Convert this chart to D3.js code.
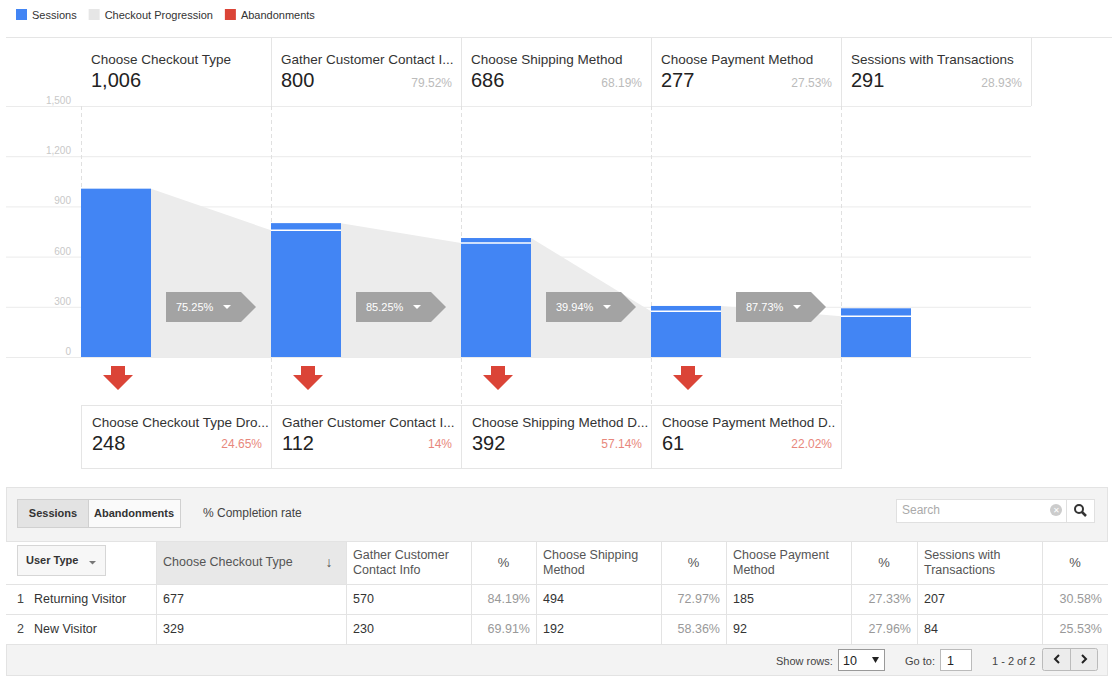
<!DOCTYPE html>
<html><head><meta charset="utf-8">
<script src="https://cdn.jsdelivr.net/npm/d3@7"></script>
<style>body{margin:0;background:#fff;font-family:Arial,"Liberation Sans",sans-serif}svg text{font-family:Arial,"Liberation Sans",sans-serif}</style>
</head><body><svg id="c" width="1112" height="682"></svg>
<script>
const steps=["Choose Checkout Type","Gather Customer Contact I...","Choose Shipping Method","Choose Payment Method","Sessions with Transactions"];
const stepValues=["1,006","800","686","277","291"];
const stepPcts=["","79.52%","68.19%","27.53%","28.93%"];
const barTotals=[1006,800,711,305,291];
const progressed=[null,757,682,274,243];
const progressionRates=["75.25%","85.25%","39.94%","87.73%"];
const dropNames=["Choose Checkout Type Dro...","Gather Customer Contact I...","Choose Shipping Method D...","Choose Payment Method D.."];
const dropValues=["248","112","392","61"];
const dropPcts=["24.65%","14%","57.14%","22.02%"];
const yTicks=[0,300,600,900,1200,1500];
const tableHeaders=["Choose Checkout Type","Gather Customer|Contact Info","%","Choose Shipping|Method","%","Choose Payment|Method","%","Sessions with|Transactions","%"];
const rowLabels=["Returning Visitor","New Visitor"];
const rowValues=[["677","570","84.19%","494","72.97%","185","27.33%","207","30.58%"],["329","230","69.91%","192","58.36%","92","27.96%","84","25.53%"]];

const svg=d3.select("#c");
const BLUE="#4285f4",RED="#db4437";
const leg=[["Sessions",BLUE],["Checkout Progression","#e6e6e6"],["Abandonments",RED]];
let lx=16;
leg.forEach(([t,c],i)=>{svg.append("rect").attr("x",lx).attr("y",9).attr("width",11).attr("height",11).attr("fill",c);
 const tx=svg.append("text").attr("x",lx+16).attr("y",19).attr("font-size",11).attr("fill","#333").text(t);
 lx+=16+tx.node().getComputedTextLength()+12;});
svg.append("line").attr("x1",6).attr("x2",1112).attr("y1",37.5).attr("y2",37.5).attr("stroke","#e5e5e5");

const y=d3.scaleLinear().domain([0,1500]).range([357,106]);
const colX=d3.scaleBand().domain(d3.range(5)).range([81,1031]).paddingInner(0).paddingOuter(0);
const cw=colX.bandwidth(), bw=70;
yTicks.forEach(t=>{svg.append("line").attr("x1",6).attr("x2",1031).attr("y1",y(t)+.5).attr("y2",y(t)+.5).attr("stroke","#ebebeb");
 svg.append("text").attr("x",71).attr("y",y(t)-2).attr("text-anchor","end").attr("font-size",10).attr("fill","#c8c8c8").text(d3.format(",")(t));});
d3.range(1,5).forEach(i=>svg.append("line").attr("x1",colX(i)+.5).attr("x2",colX(i)+.5).attr("y1",106).attr("y2",405).attr("stroke","#e0e0e0").attr("stroke-dasharray","4,3"));
svg.append("line").attr("x1",81.5).attr("x2",81.5).attr("y1",106).attr("y2",357).attr("stroke","#e0e0e0").attr("stroke-dasharray","4,3");
for(let i=0;i<4;i++){
 const x0=colX(i)+bw,x1=colX(i+1);
 svg.append("path").attr("d",`M${x0},${y(barTotals[i])}L${x1},${y(progressed[i+1])}L${x1},${y(0)}L${x0},${y(0)}Z`).attr("fill","#ececec");
}
barTotals.forEach((v,i)=>{
 svg.append("rect").attr("x",colX(i)).attr("y",y(v)).attr("width",bw).attr("height",y(0)-y(v)).attr("fill",BLUE);
 if(progressed[i]!=null) svg.append("line").attr("x1",colX(i)).attr("x2",colX(i)+bw).attr("y1",y(progressed[i])).attr("y2",y(progressed[i])).attr("stroke","#fff").attr("stroke-width",1.5);
});
progressionRates.forEach((r,i)=>{
 const px=colX(i)+85,py=292;
 svg.append("path").attr("d",`M${px},${py}h75l15,15l-15,15h-75z`).attr("fill","#a3a3a3");
 svg.append("text").attr("x",px+10).attr("y",py+19).attr("font-size",11).attr("fill","#fff").text(r);
 svg.append("path").attr("d",`M${px+57},${py+13}h8l-4,4z`).attr("fill","#fff");
});
steps.forEach((s,i)=>{
 const x=colX(i);
 if(i>0) svg.append("line").attr("x1",x+.5).attr("x2",x+.5).attr("y1",38).attr("y2",106).attr("stroke","#e5e5e5");
 svg.append("text").attr("x",x+10).attr("y",64).attr("font-size",13.5).attr("fill","#333").text(s);
 svg.append("text").attr("x",x+10).attr("y",87).attr("font-size",20).attr("fill","#222").text(stepValues[i]);
 if(stepPcts[i]) svg.append("text").attr("x",x+cw-9).attr("y",87).attr("text-anchor","end").attr("font-size",12).attr("fill","#bbb").text(stepPcts[i]);
});
svg.append("line").attr("x1",colX(4)+cw+.5).attr("x2",colX(4)+cw+.5).attr("y1",38).attr("y2",106).attr("stroke","#e5e5e5");
dropNames.forEach((s,i)=>{
 const x=colX(i), cx=x+37;
 svg.append("path").attr("d",`M${cx-7},366h14v9h8l-15,15l-15,-15h8z`).attr("fill",RED);
 svg.append("rect").attr("x",x+.5).attr("y",405.5).attr("width",cw).attr("height",63).attr("fill","none").attr("stroke","#e5e5e5");
 svg.append("text").attr("x",x+11).attr("y",427).attr("font-size",13.5).attr("fill","#333").text(s);
 svg.append("text").attr("x",x+11).attr("y",450).attr("font-size",20).attr("fill","#222").text(dropValues[i]);
 svg.append("text").attr("x",x+cw-9).attr("y",448).attr("text-anchor","end").attr("font-size",12).attr("fill","#e8877c").text(dropPcts[i]);
});
svg.append("rect").attr("x",6.5).attr("y",487.5).attr("width",1101).attr("height",188).attr("fill","#f3f3f3").attr("stroke","#e3e3e3");
svg.append("rect").attr("x",17.5).attr("y",499.5).attr("width",163).attr("height",28).attr("fill","#fafafa").attr("stroke","#d0d0d0");
svg.append("rect").attr("x",18).attr("y",500).attr("width",70).attr("height",27).attr("fill","#e3e3e3");
svg.append("line").attr("x1",88.5).attr("x2",88.5).attr("y1",500).attr("y2",527).attr("stroke","#d0d0d0");
svg.append("text").attr("x",53).attr("y",517).attr("text-anchor","middle").attr("font-size",11).attr("font-weight","bold").attr("fill","#333").text("Sessions");
svg.append("text").attr("x",134).attr("y",517).attr("text-anchor","middle").attr("font-size",11).attr("font-weight","bold").attr("fill","#333").text("Abandonments");
svg.append("text").attr("x",203).attr("y",517).attr("font-size",12).attr("fill","#444").text("% Completion rate");
svg.append("rect").attr("x",896.5).attr("y",499.5).attr("width",198).attr("height",23).attr("fill","#fff").attr("stroke","#e0e0e0");
svg.append("line").attr("x1",1066.5).attr("x2",1066.5).attr("y1",500).attr("y2",522).attr("stroke","#e0e0e0");
svg.append("text").attr("x",902).attr("y",514).attr("font-size",12).attr("fill","#aaa").text("Search");
svg.append("circle").attr("cx",1056).attr("cy",510).attr("r",6).attr("fill","#ccc");
svg.append("text").attr("x",1056).attr("y",513).attr("text-anchor","middle").attr("font-size",8).attr("fill","#fff").text("✕");
svg.append("circle").attr("cx",1079).attr("cy",509).attr("r",4).attr("fill","none").attr("stroke","#333").attr("stroke-width",2);
svg.append("line").attr("x1",1082).attr("y1",512).attr("x2",1086).attr("y2",516).attr("stroke","#333").attr("stroke-width",2.5);
const cols=[6,156,346,471,536,661,726,851,917,1042,1108];
svg.append("rect").attr("x",6).attr("y",541).attr("width",1102).attr("height",103).attr("fill","#fff");
svg.append("rect").attr("x",156).attr("y",541).attr("width",190).attr("height",43).attr("fill","#e8e8e8");
[541,584,614,644].forEach(yy=>svg.append("line").attr("x1",6).attr("x2",1108).attr("y1",yy+.5).attr("y2",yy+.5).attr("stroke","#e3e3e3"));
cols.slice(1,-1).forEach(cx=>svg.append("line").attr("x1",cx+.5).attr("x2",cx+.5).attr("y1",541).attr("y2",644).attr("stroke","#e3e3e3"));
svg.append("rect").attr("x",17.5).attr("y",545.5).attr("width",88).attr("height",30).attr("fill","#f7f7f7").attr("stroke","#d6d6d6");
svg.append("text").attr("x",26).attr("y",564).attr("font-size",11).attr("font-weight","bold").attr("fill","#333").text("User Type");
svg.append("path").attr("d","M89,561h7l-3.5,3.5z").attr("fill","#777");
tableHeaders.forEach((h,i)=>{
 const x0=cols[i+1],x1=cols[i+2];
 if(h==="%"){svg.append("text").attr("x",(x0+x1)/2).attr("y",567).attr("text-anchor","middle").attr("font-size",13).attr("fill","#555").text("%");return;}
 const parts=h.split("|");
 parts.forEach((p,k)=>svg.append("text").attr("x",x0+7).attr("y",parts.length>1?559+k*15:566).attr("font-size",12.5).attr("fill","#555").text(p));
});
svg.append("text").attr("x",329).attr("y",567).attr("text-anchor","middle").attr("font-size",14).attr("font-weight","bold").attr("fill","#555").text("↓");
rowLabels.forEach((l,r)=>{
 const yy=603+r*30;
 svg.append("text").attr("x",17).attr("y",yy).attr("font-size",12.5).attr("fill","#444").text(r+1);
 svg.append("text").attr("x",34).attr("y",yy).attr("font-size",12.5).attr("fill","#333").text(l);
 rowValues[r].forEach((v,i)=>{
  const x0=cols[i+1],x1=cols[i+2],pct=v.endsWith("%");
  svg.append("text").attr("x",pct?x1-6:x0+7).attr("y",yy).attr("text-anchor",pct?"end":"start").attr("font-size",12.5).attr("fill",pct?"#999":"#333").text(v);
 });
});
svg.append("text").attr("x",776).attr("y",665).attr("font-size",11).attr("fill","#444").text("Show rows:");
svg.append("rect").attr("x",838.5).attr("y",649.5).attr("width",46).attr("height",21).attr("fill","#fff").attr("stroke","#999");
svg.append("text").attr("x",843).attr("y",665).attr("font-size",12.5).attr("fill","#222").text("10");
svg.append("path").attr("d","M872,657h7l-3.5,6z").attr("fill","#222");
svg.append("text").attr("x",905).attr("y",665).attr("font-size",11).attr("fill","#444").text("Go to:");
svg.append("rect").attr("x",940.5).attr("y",649.5).attr("width",31).attr("height",21).attr("fill","#fff").attr("stroke","#bbb");
svg.append("text").attr("x",947).attr("y",665).attr("font-size",12.5).attr("fill","#222").text("1");
svg.append("text").attr("x",992).attr("y",665).attr("font-size",11).attr("fill","#444").text("1 - 2 of 2");
svg.append("rect").attr("x",1042.5).attr("y",648.5).attr("width",55).attr("height",22).attr("rx",2).attr("fill","#ececec").attr("stroke","#bbb");
svg.append("line").attr("x1",1070.5).attr("x2",1070.5).attr("y1",649).attr("y2",670).attr("stroke","#bbb");
svg.append("path").attr("d","M1059,655l-4,4l4,4").attr("fill","none").attr("stroke","#222").attr("stroke-width",2);
svg.append("path").attr("d","M1082,655l4,4l-4,4").attr("fill","none").attr("stroke","#222").attr("stroke-width",2);
</script></body></html>
